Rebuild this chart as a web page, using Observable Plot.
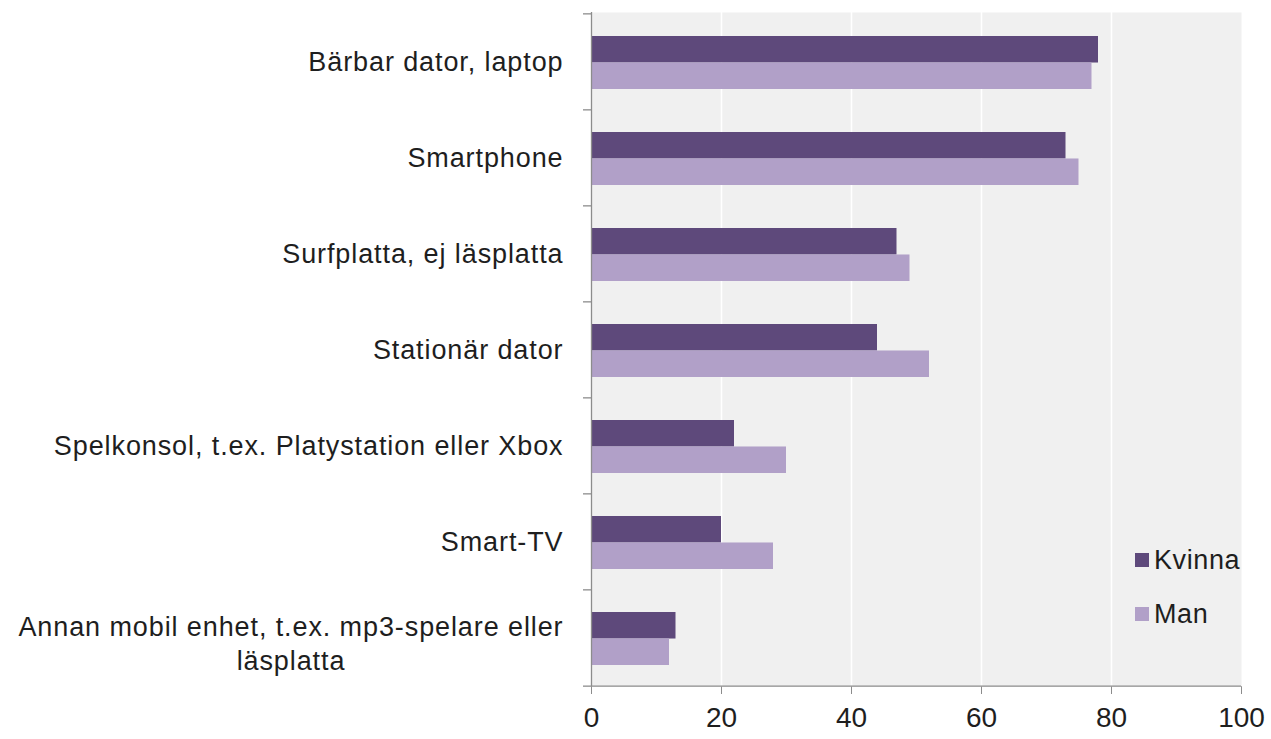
<!DOCTYPE html>
<html>
<head>
<meta charset="utf-8">
<script src="https://cdn.jsdelivr.net/npm/d3@7"></script>
<script src="https://cdn.jsdelivr.net/npm/@observablehq/plot@0.6"></script>
<style>
  html, body { margin: 0; padding: 0; background: #ffffff; }
  #chart { position: relative; width: 1271px; height: 739px; font-family: "Liberation Sans", Arial, sans-serif; }
  #chart svg g[aria-label="text"] text { letter-spacing: 0.9px; }
  .legend { position: absolute; left: 1135px; top: 533px; font-family: "Liberation Sans", Arial, sans-serif; font-size: 27px; color: #1e1e1e; letter-spacing: 0.6px; }
  .legend .row { display: flex; align-items: center; height: 54px; }
  .legend .sw { width: 14px; height: 14px; margin-right: 5px; }
</style>
</head>
<body>
<div id="chart"></div>
<script>
// ---- data ----
const categories = [
  "Bärbar dator, laptop",
  "Smartphone",
  "Surfplatta, ej läsplatta",
  "Stationär dator",
  "Spelkonsol, t.ex. Platystation eller Xbox",
  "Smart-TV",
  "Annan mobil enhet, t.ex. mp3-spelare eller läsplatta"
];
const labelFirstLines = [
  "Bärbar dator, laptop",
  "Smartphone",
  "Surfplatta, ej läsplatta",
  "Stationär dator",
  "Spelkonsol, t.ex. Platystation eller Xbox",
  "Smart-TV",
  "Annan mobil enhet, t.ex. mp3-spelare eller"
];
const labelSecondLines = ["", "", "", "", "", "", "läsplatta"];
const kvinna = [78, 73, 47, 44, 22, 20, 13];
const man = [77, 75, 49, 52, 30, 28, 12];
const seriesNames = ["Kvinna", "Man"];
const seriesColors = ["#5e497b", "#b1a0c8"];
const xTicks = [0, 20, 40, 60, 80, 100];
const gridTicks = [20, 40, 60, 80];

// ---- layout ----
const W = 1271, H = 739;
const mTop = 12, mBottom = 53, mLeft = 591, mRight = 30;
const plotH = H - mTop - mBottom;
const plotW = W - mLeft - mRight;
const step = plotH / categories.length;
const padInner = 0.45;
const bandwidth = step * (1 - padInner);
const axisGray = "#8c8c8c";
const textColor = "#1e1e1e";
const labelFont = 27, labelSpacing = 0.9, labelGap = 28;

const rows = categories.flatMap((c, i) => [
  {category: c, series: seriesNames[0], value: kvinna[i]},
  {category: c, series: seriesNames[1], value: man[i]}
]);

// measure text width for centring wrapped labels
const ctx = document.createElement("canvas").getContext("2d");
ctx.font = `${labelFont}px "Liberation Sans", Arial, sans-serif`;
const measure = s => ctx.measureText(s).width + labelSpacing * s.length;

const singleIdx = d3.range(categories.length).filter(i => !labelSecondLines[i]);
const multiIdx = d3.range(categories.length).filter(i => labelSecondLines[i]);

const marks = [
  Plot.frame({fill: "#f0f0f0", stroke: null}),
  Plot.ruleX(gridTicks, {stroke: "#ffffff", strokeWidth: 1.5}),
  Plot.barX(rows.filter(d => d.series === seriesNames[0]), {
    x: "value", y: "category", fill: seriesColors[0], insetBottom: bandwidth / 2, dy: 1
  }),
  Plot.barX(rows.filter(d => d.series === seriesNames[1]), {
    x: "value", y: "category", fill: seriesColors[1], insetTop: bandwidth / 2, dy: 1
  }),
  // left axis line
  Plot.ruleX([0], {stroke: axisGray, strokeWidth: 1.3}),
  // bottom axis line
  Plot.ruleY([categories[categories.length - 1]], {y: d => d, dy: step / 2, stroke: axisGray, strokeWidth: 1.3}),
  // category boundary ticks on left axis
  Plot.ruleY(categories, {y: d => d, dy: -step / 2, stroke: axisGray, strokeWidth: 1.3, insetLeft: -8, insetRight: plotW}),
  Plot.ruleY([categories[categories.length - 1]], {y: d => d, dy: step / 2, stroke: axisGray, strokeWidth: 1.3, insetLeft: -8, insetRight: plotW}),
  // single-line category labels
  Plot.text(singleIdx, {
    y: i => categories[i], text: i => labelFirstLines[i],
    frameAnchor: "left", textAnchor: "end", dx: -labelGap,
    fontSize: labelFont, fill: textColor
  }),
  // wrapped labels, centred on their first line
  ...multiIdx.map(i => Plot.text([i], {
    y: j => categories[j], text: j => labelFirstLines[j] + "\n" + labelSecondLines[j],
    frameAnchor: "left", textAnchor: "middle", dx: -labelGap - measure(labelFirstLines[i]) / 2, dy: 4,
    lineHeight: 1.27, fontSize: labelFont, fill: textColor
  }))
];

const chart = Plot.plot({
  width: W,
  height: H,
  marginTop: mTop,
  marginBottom: mBottom,
  marginLeft: mLeft,
  marginRight: mRight,
  style: {fontFamily: '"Liberation Sans", Arial, sans-serif', fontSize: "28px", color: textColor, background: "#ffffff"},
  x: {domain: [0, 100], ticks: xTicks, tickSize: 8, tickPadding: 13, label: null, line: false},
  y: {domain: categories, paddingInner: padInner, paddingOuter: padInner / 2, axis: null, label: null},
  marks
});

// colour x-axis tick lines grey
chart.querySelectorAll('g[aria-label^="x-axis"] path, g[aria-label^="x-axis"] line').forEach(el => el.setAttribute("stroke", axisGray));

const holder = document.getElementById("chart");
holder.appendChild(chart);

// legend
const legend = document.createElement("div");
legend.className = "legend";
seriesNames.forEach((name, i) => {
  const row = document.createElement("div");
  row.className = "row";
  const sw = document.createElement("span");
  sw.className = "sw";
  sw.style.background = seriesColors[i];
  const lab = document.createElement("span");
  lab.textContent = name;
  row.appendChild(sw);
  row.appendChild(lab);
  legend.appendChild(row);
});
holder.appendChild(legend);
</script>
</body>
</html>
